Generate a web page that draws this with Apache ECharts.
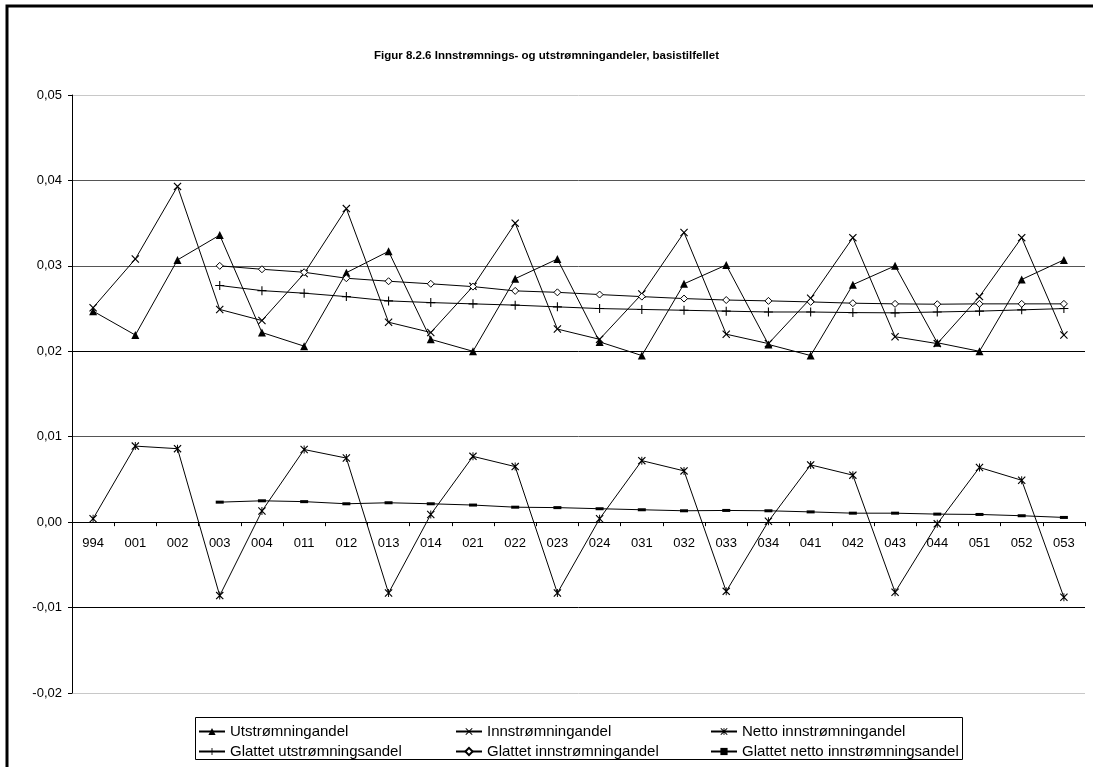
<!DOCTYPE html>
<html>
<head>
<meta charset="utf-8">
<script src="https://cdn.jsdelivr.net/npm/echarts@6/dist/echarts.min.js"></script>
<style>
html,body{margin:0;padding:0;background:#fff;}
#chart{width:1093px;height:767px;}
</style>
</head>
<body>
<div id="chart"></div>
<script>
var categories = ['994','001','002','003','004','011','012','013','014','021','022','023','024','031','032','033','034','041','042','043','044','051','052','053'];
var utstromning = [0.0247,0.0219,0.0307,0.0336,0.0222,0.0206,0.0292,0.0317,0.0214,0.0200,0.0285,0.0308,0.0211,0.0195,0.0279,0.0301,0.0208,0.0195,0.0278,0.0300,0.0210,0.0200,0.0284,0.0307];
var innstromning = [0.0251,0.0308,0.0393,0.0249,0.0236,0.0291,0.0367,0.0234,0.0222,0.0276,0.0350,0.0226,0.0214,0.0267,0.0339,0.0220,0.0209,0.0262,0.0333,0.0217,0.0209,0.0264,0.0333,0.0219];
var netto = [0.0004,0.0089,0.0086,-0.0086,0.0013,0.0085,0.0075,-0.0083,0.0009,0.0077,0.0065,-0.0083,0.0004,0.0072,0.0060,-0.0081,0.0001,0.0067,0.0055,-0.0082,-0.0002,0.0064,0.0049,-0.0088];
var glattetUt = [null,null,null,0.0277,0.0271,0.0268,0.0264,0.0259,0.0257,0.02555,0.0254,0.0252,0.0250,0.0249,0.0248,0.0247,0.0246,0.0246,0.02453,0.0245,0.0246,0.0247,0.02485,0.0250];
var glattetInn = [null,null,null,0.0300,0.0296,0.02925,0.02855,0.0282,0.0279,0.02757,0.02707,0.0269,0.02664,0.0264,0.02617,0.0260,0.0259,0.02578,0.02563,0.02555,0.02551,0.02555,0.02555,0.02555];
var glattetNetto = [null,null,null,0.00234,0.0025,0.0024,0.00215,0.00227,0.00215,0.0020,0.00175,0.0017,0.00157,0.00145,0.00133,0.00137,0.00133,0.0012,0.00105,0.00105,0.00094,0.0009,0.00075,0.00055];
var seriesNames = ['Utstrømningandel','Innstrømningandel','Netto innstrømningandel','Glattet utstrømningsandel','Glattet innstrømningandel','Glattet netto innstrømningsandel'];
var yTicks = {min: -0.02, max: 0.05, interval: 0.01};

var FONT = '"Liberation Sans", Arial, sans-serif';
var crossPath = 'path://M0,1 L1,0 L5,4 L9,0 L10,1 L6,5 L10,9 L9,10 L5,6 L1,10 L0,9 L4,5 Z';
var starPath = 'path://M0,1 L1,0 L5,4 L9,0 L10,1 L6,5 L10,9 L9,10 L5,6 L1,10 L0,9 L4,5 Z M4.4,0 L5.6,0 L5.6,10 L4.4,10 Z';
var plusPath = 'path://M4.4,0 L5.6,0 L5.6,4.4 L10,4.4 L10,5.6 L5.6,5.6 L5.6,10 L4.4,10 L4.4,5.6 L0,5.6 L0,4.4 L4.4,4.4 Z';

var W = 1093, H = 767;
var GRID = {left: 72, right: 8, top: 95, bottom: 74};
var gridHeight = H - GRID.top - GRID.bottom;
var zeroOffset = -((0 - yTicks.min) / (yTicks.max - yTicks.min)) * gridHeight;

function mkSeries(name, data, symbol, size, itemStyle) {
  return {
    name: name, type: 'line', data: data,
    symbol: symbol, symbolSize: size, showSymbol: true,
    lineStyle: {color: '#000', width: 1},
    itemStyle: itemStyle || {color: '#000'},
    emphasis: {disabled: true},
    animation: false
  };
}

var chart = echarts.init(document.getElementById('chart'), null, {renderer: 'canvas'});

var legendPos = [[198,724],[455,724],[710,724],[198,744],[455,744],[710,744]];
var legends = seriesNames.map(function(n, i){
  return {
    data: [n], left: legendPos[i][0], top: legendPos[i][1], padding: 0,
    itemWidth: 26, itemHeight: 9, itemGap: 0,
    textStyle: {fontFamily: FONT, fontSize: 15, color: '#000'},
    selectedMode: false
  };
});

chart.setOption({
  backgroundColor: '#fff',
  animation: false,
  title: {
    text: 'Figur 8.2.6 Innstrømnings- og utstrømningandeler, basistilfellet',
    left: 'center', top: 45,
    textStyle: {fontFamily: FONT, fontSize: 11.5, fontWeight: 'bold', color: '#000'}
  },
  legend: legends,
  grid: {left: GRID.left, right: GRID.right, top: GRID.top, bottom: GRID.bottom, containLabel: false},
  xAxis: {
    type: 'category', data: categories, boundaryGap: true,
    position: 'bottom', offset: zeroOffset,
    axisLine: {onZero: false, lineStyle: {color: '#000', width: 1}},
    axisTick: {show: true, interval: 0, length: 4, lineStyle: {color: '#000'}},
    axisLabel: {interval: 0, margin: 15, fontFamily: FONT, fontSize: 13, color: '#000'},
    splitLine: {show: false}
  },
  yAxis: {
    type: 'value', min: yTicks.min, max: yTicks.max, interval: yTicks.interval,
    axisLine: {show: true, lineStyle: {color: '#000', width: 1}},
    axisTick: {show: true, length: 4, lineStyle: {color: '#000'}},
    axisLabel: {margin: 10, fontFamily: FONT, fontSize: 13, color: '#000',
      formatter: function(v){ return v.toFixed(2).replace('.', ','); }},
    splitLine: {show: true, lineStyle: {color: ['#c8c8c8','#000','#000','#555','#000','#555','#555','#c8c8c8'], width: 1}}
  },
  graphic: [
    {type: 'rect', shape: {x: 7, y: 6, width: 1200, height: 900}, style: {fill: 'none', stroke: '#000', lineWidth: 3}, silent: true, z: 100},
    {type: 'rect', shape: {x: 195.5, y: 717.5, width: 767, height: 42}, style: {fill: 'none', stroke: '#000', lineWidth: 1}, silent: true, z: 100}
  ],
  series: [
    mkSeries(seriesNames[0], utstromning, 'triangle', 8),
    mkSeries(seriesNames[1], innstromning, crossPath, 8),
    mkSeries(seriesNames[2], netto, starPath, 8),
    mkSeries(seriesNames[3], glattetUt, plusPath, 9),
    mkSeries(seriesNames[4], glattetInn, 'diamond', 7, {color: '#fff', borderColor: '#000', borderWidth: 1}),
    mkSeries(seriesNames[5], glattetNetto, 'rect', [8, 3])
  ]
});
</script>
</body>
</html>
